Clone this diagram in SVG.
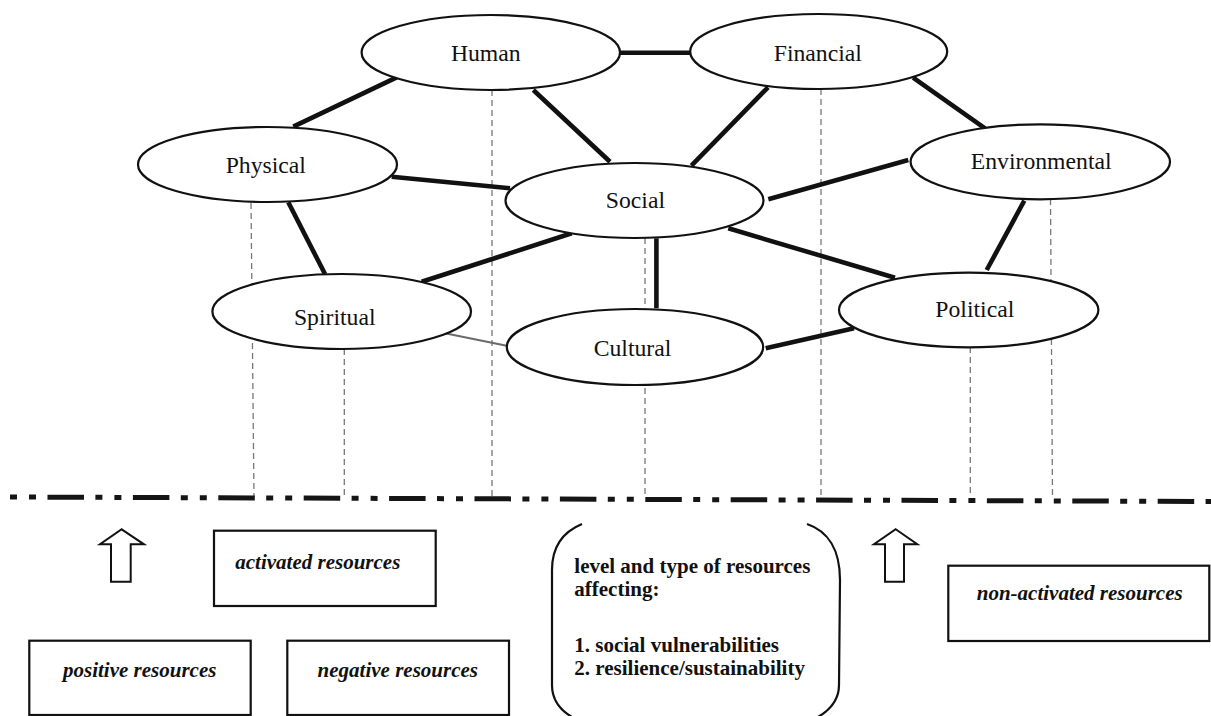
<svg xmlns="http://www.w3.org/2000/svg" width="1211" height="716" viewBox="0 0 1211 716">
  <style>
    .node ellipse { fill: #ffffff; stroke: #111111; stroke-width: 2.2; }
    .node text { font-family: "Liberation Serif", "Times New Roman", serif; font-size: 23.7px; fill: #111111; text-anchor: middle; }
    .link { stroke: #111111; stroke-width: 4.6; fill: none; }
    .link.weak { stroke: #6a6a6a; stroke-width: 2; }
    .drop { stroke: #777777; stroke-width: 1.3; stroke-dasharray: 6 4; fill: none; }
    .divider { stroke: #151515; stroke-width: 5; stroke-dasharray: 7 12 7 11.5 36.5 11.4; fill: none; }
    .box { fill: #ffffff; stroke: #111111; stroke-width: 2.2; }
    .label { font-family: "Liberation Serif", "Times New Roman", serif; font-size: 21px; font-weight: bold; font-style: italic; fill: #111111; text-anchor: middle; }
    .note { font-family: "Liberation Serif", "Times New Roman", serif; font-size: 21px; font-weight: bold; fill: #111111; }
    .bracket { fill: none; stroke: #111111; stroke-width: 2.2; }
    .arrow { fill: #ffffff; stroke: #111111; stroke-width: 2; stroke-linejoin: miter; }
  </style>

  <rect x="0" y="0" width="1211" height="716" fill="#ffffff"/>

  <!-- vertical drop lines from each resource down to the divider -->
  <g id="drops">
    <line class="drop" x1="251" y1="203" x2="254" y2="497"/>
    <line class="drop" x1="344.3" y1="349" x2="344.3" y2="497"/>
    <line class="drop" x1="492" y1="90" x2="492" y2="497"/>
    <line class="drop" x1="645" y1="238" x2="645" y2="497"/>
    <line class="drop" x1="821" y1="89" x2="821" y2="497"/>
    <line class="drop" x1="970.3" y1="347" x2="970.3" y2="497"/>
    <line class="drop" x1="1050.5" y1="199" x2="1052.5" y2="497"/>
  </g>

  <!-- links between resources -->
  <g id="connectors">
    <line class="link" x1="619" y1="52.7" x2="690" y2="52.7"/>
    <line class="link" x1="396.7" y1="77.3" x2="293.3" y2="126.7"/>
    <line class="link" x1="533.3" y1="90" x2="610" y2="161.7"/>
    <line class="link" x1="391.7" y1="176.7" x2="510" y2="188.3"/>
    <line class="link" x1="288.3" y1="202.3" x2="325" y2="274"/>
    <line class="link" x1="571.7" y1="233.3" x2="421.7" y2="281.7"/>
    <line class="link" x1="768" y1="87.3" x2="691.4" y2="165.7"/>
    <line class="link" x1="913.1" y1="77.7" x2="985" y2="128.3"/>
    <line class="link" x1="768.3" y1="199.3" x2="908.3" y2="160"/>
    <line class="link" x1="728.3" y1="228.3" x2="895" y2="277.7"/>
    <line class="link" x1="1024.3" y1="200.7" x2="986.7" y2="270"/>
    <line class="link" x1="656.4" y1="238.3" x2="656.4" y2="308.3"/>
    <line class="link" x1="765.7" y1="348.3" x2="854" y2="328.3"/>
    <line class="link weak" x1="445" y1="333.3" x2="506.7" y2="345.7"/>
  </g>

  <g id="human" class="node">
    <ellipse cx="490.8" cy="52.5" rx="129.2" ry="37.5"/>
    <text x="485.8" y="61">Human</text>
  </g>
  <g id="financial" class="node">
    <ellipse cx="818.7" cy="51.5" rx="128.5" ry="37.5"/>
    <text x="817.8" y="61">Financial</text>
  </g>
  <g id="physical" class="node">
    <ellipse cx="267.5" cy="164.5" rx="129.5" ry="37.5"/>
    <text x="265.8" y="173.3">Physical</text>
  </g>
  <g id="social" class="node">
    <ellipse cx="634.5" cy="200.5" rx="129" ry="37.5"/>
    <text x="635.4" y="208.3">Social</text>
  </g>
  <g id="environmental" class="node">
    <ellipse cx="1040.3" cy="161.8" rx="129.7" ry="37.5"/>
    <text x="1041.2" y="169.3">Environmental</text>
  </g>
  <g id="spiritual" class="node">
    <ellipse cx="341.7" cy="311.5" rx="129.3" ry="37.5"/>
    <text x="334.7" y="325">Spiritual</text>
  </g>
  <g id="cultural" class="node">
    <ellipse cx="635" cy="347" rx="128.2" ry="38"/>
    <text x="632.5" y="356">Cultural</text>
  </g>
  <g id="political" class="node">
    <ellipse cx="968.7" cy="310" rx="129.7" ry="37.3"/>
    <text x="974.8" y="316.7">Political</text>
  </g>

  <!-- dash-dot divider between the resource network and the legend -->
  <line id="divider" class="divider" x1="10" y1="497" x2="1211" y2="501.5"/>

  <g id="arrow-left">
    <path class="arrow" d="M121.7,529.3 L144,544.3 L130.7,544.3 L130.7,581.7 L111,581.7 L111,544.3 L100,544.3 Z"/>
  </g>
  <g id="arrow-right">
    <path class="arrow" d="M895.7,529.3 L917.3,544.3 L904,544.3 L904,581.7 L885,581.7 L885,544.3 L874,544.3 Z"/>
  </g>

  <g id="activated">
    <rect class="box" x="214" y="530.7" width="221.7" height="75.3"/>
    <text class="label" x="317.8" y="569">activated resources</text>
  </g>
  <g id="positive">
    <rect class="box" x="29.3" y="640.7" width="221.4" height="74.3"/>
    <text class="label" x="139.7" y="677">positive resources</text>
  </g>
  <g id="negative">
    <rect class="box" x="287.3" y="640.7" width="221.7" height="74.3"/>
    <text class="label" x="397.8" y="677">negative resources</text>
  </g>
  <g id="non-activated">
    <rect class="box" x="948.3" y="565.7" width="261" height="75.3"/>
    <text class="label" x="1079.7" y="600">non-activated resources</text>
  </g>

  <g id="effects">
    <path class="bracket" d="M582,524 C565,531 552,545 552,570 L552,685 C552,700 560,710 572,717"/>
    <path class="bracket" d="M807,524 C828,531 840,550 840,580 L839,685 C839,700 830,710 818,717"/>
    <text class="note" x="574.3" y="573">level and type of resources</text>
    <text class="note" x="574.3" y="596">affecting:</text>
    <text class="note" x="574.3" y="652">1. social vulnerabilities</text>
    <text class="note" x="574.3" y="675">2. resilience/sustainability</text>
  </g>
</svg>
